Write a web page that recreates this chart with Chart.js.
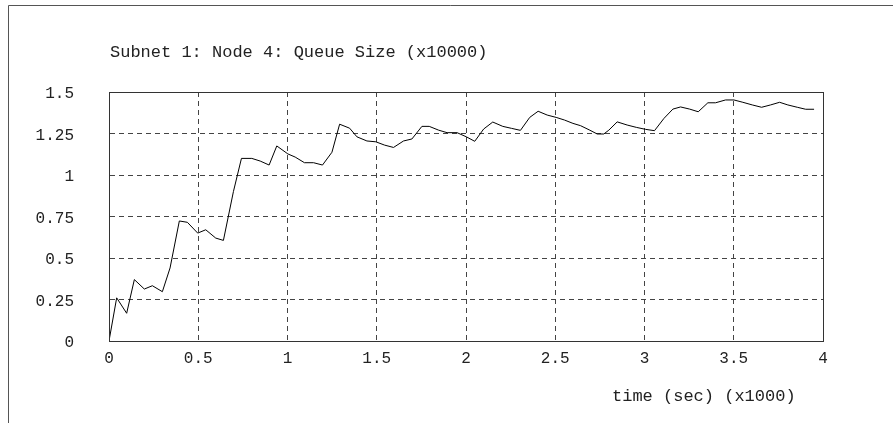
<!DOCTYPE html>
<html>
<head>
<meta charset="utf-8">
<script src="https://cdn.jsdelivr.net/npm/chart.js@4"></script>
<style>
  html, body { margin: 0; padding: 0; background: #ffffff; }
  #wrap { width: 893px; height: 423px; position: relative; }
</style>
</head>
<body>
<div id="wrap"><canvas id="c" width="893" height="423"></canvas></div>
<script>
// ---- data ----
const chartTitle = 'Subnet 1: Node 4: Queue Size (x10000)';
const xAxisTitle = 'time (sec) (x1000)';

const timeSec = [
  0, 0.043, 0.099, 0.142, 0.198, 0.243, 0.299, 0.342, 0.394, 0.439,
  0.497, 0.542, 0.598, 0.641, 0.697, 0.742, 0.800, 0.847, 0.897, 0.940,
  1.002, 1.043, 1.095, 1.146, 1.196, 1.249, 1.292, 1.348, 1.389, 1.445,
  1.495, 1.544, 1.594, 1.650, 1.697, 1.753, 1.794, 1.847, 1.894, 1.950,
  2.002, 2.049, 2.099, 2.150, 2.206, 2.255, 2.305, 2.357, 2.404, 2.455,
  2.505, 2.552, 2.599, 2.642, 2.690, 2.735, 2.772, 2.800, 2.847, 2.903,
  2.954, 3.006, 3.056, 3.109, 3.159, 3.202, 3.253, 3.301, 3.355, 3.398,
  3.454, 3.501, 3.551, 3.604, 3.656, 3.706, 3.757, 3.803, 3.856, 3.903,
  3.950
];
const queueSize = [
  0, 0.260, 0.167, 0.370, 0.313, 0.333, 0.297, 0.440, 0.723, 0.715,
  0.650, 0.670, 0.620, 0.606, 0.900, 1.100, 1.100, 1.084, 1.060, 1.175,
  1.127, 1.108, 1.074, 1.074, 1.060, 1.137, 1.306, 1.282, 1.230, 1.205,
  1.200, 1.180, 1.166, 1.205, 1.217, 1.293, 1.293, 1.270, 1.255, 1.255,
  1.230, 1.203, 1.277, 1.319, 1.293, 1.281, 1.269, 1.347, 1.384, 1.361,
  1.347, 1.331, 1.311, 1.297, 1.272, 1.247, 1.247, 1.270, 1.320, 1.301,
  1.287, 1.275, 1.267, 1.341, 1.397, 1.410, 1.397, 1.381, 1.435, 1.435,
  1.452, 1.452, 1.438, 1.422, 1.408, 1.422, 1.438, 1.422, 1.408, 1.396,
  1.396
];

const xTickValues = [0, 0.5, 1, 1.5, 2, 2.5, 3, 3.5, 4];
const xTickLabels = ['0', '0.5', '1', '1.5', '2', '2.5', '3', '3.5', '4'];
const yTickValues = [0, 0.25, 0.5, 0.75, 1, 1.25, 1.5];
const yTickLabels = ['0', '0.25', '0.5', '0.75', '1', '1.25', '1.5'];

// ---- styling ----
const FONT = '"Liberation Mono", "DejaVu Sans Mono", monospace';
const TEXT_COLOR = '#222';
const GRID_COLOR = '#444';

const points = timeSec.map((t, i) => ({ x: t, y: queueSize[i] }));

const framePlugin = {
  id: 'frameAndTitles',
  beforeDraw(chart) {
    const ctx = chart.ctx;
    ctx.save();
    ctx.fillStyle = '#ffffff';
    ctx.fillRect(0, 0, chart.width, chart.height);
    ctx.strokeStyle = '#555';
    ctx.lineWidth = 1;
    ctx.beginPath();
    ctx.moveTo(8.5, chart.height);
    ctx.lineTo(8.5, 5.5);
    ctx.lineTo(chart.width, 5.5);
    ctx.stroke();
    ctx.restore();
  },
  afterDraw(chart) {
    const ctx = chart.ctx;
    const a = chart.chartArea;
    ctx.save();
    ctx.strokeStyle = '#333';
    ctx.lineWidth = 1;
    ctx.setLineDash([]);
    ctx.strokeRect(Math.round(a.left) + 0.5, Math.round(a.top) + 0.5,
                   Math.round(a.right - a.left), Math.round(a.bottom - a.top));
    ctx.fillStyle = TEXT_COLOR;
    ctx.font = '17px ' + FONT;
    ctx.textAlign = 'left';
    ctx.textBaseline = 'alphabetic';
    ctx.fillText(chartTitle, a.left + 1, 57);
    ctx.fillText(xAxisTitle, 612, 401);
    ctx.restore();
  }
};

new Chart(document.getElementById('c'), {
  type: 'line',
  data: {
    datasets: [{
      label: 'Queue Size',
      data: points,
      borderColor: '#000',
      borderWidth: 1,
      pointRadius: 0,
      tension: 0,
      fill: false
    }]
  },
  options: {
    responsive: false,
    animation: false,
    devicePixelRatio: 1,
    layout: { padding: { left: 0, right: 70, top: 92, bottom: 0 } },
    plugins: {
      legend: { display: false },
      title: { display: false },
      tooltip: { enabled: false }
    },
    scales: {
      x: {
        type: 'linear',
        min: 0,
        max: 4,
        afterBuildTicks: (s) => { s.ticks = xTickValues.map(v => ({ value: v })); },
        afterFit: (s) => { s.height = 82; },
        ticks: {
          autoSkip: false,
          maxRotation: 0,
          padding: 8,
          color: TEXT_COLOR,
          font: { family: FONT, size: 16 },
          callback: (v) => xTickLabels[xTickValues.indexOf(v)]
        },
        grid: { color: GRID_COLOR, lineWidth: 1, drawTicks: false },
        border: { display: true, color: '#333', dash: [5, 4] }
      },
      y: {
        type: 'linear',
        min: 0,
        max: 1.5,
        afterBuildTicks: (s) => { s.ticks = yTickValues.map(v => ({ value: v })); },
        afterFit: (s) => { s.width = 109; },
        ticks: {
          autoSkip: false,
          padding: 35,
          labelOffset: 2,
          color: TEXT_COLOR,
          font: { family: FONT, size: 16 },
          callback: (v) => yTickLabels[yTickValues.indexOf(v)]
        },
        grid: { color: GRID_COLOR, lineWidth: 1, drawTicks: false },
        border: { display: true, color: '#333', dash: [5, 4] }
      }
    }
  },
  plugins: [framePlugin]
});
</script>
</body>
</html>
